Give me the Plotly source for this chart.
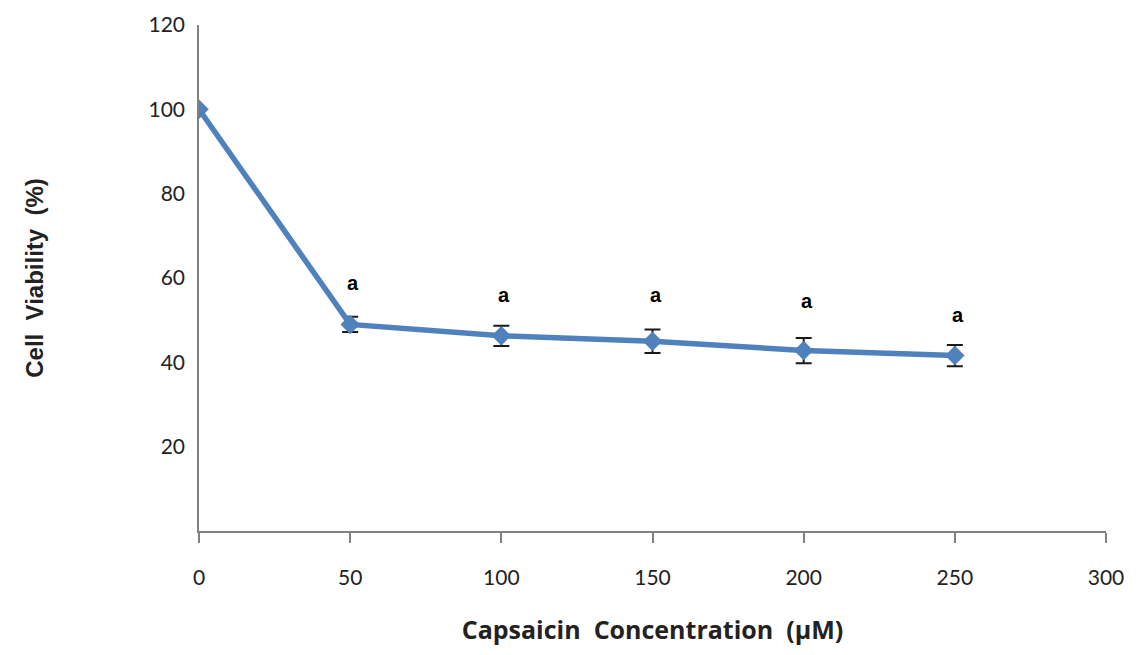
import plotly.graph_objects as go

conc = [0, 50, 100, 150, 200, 250]
viability = [100, 49.0, 46.3, 45.0, 42.8, 41.6]
err = [0, 1.8, 2.4, 2.8, 3.0, 2.5]
sig_labels = ["", "a", "a", "a", "a", "a"]
sig_y = [None, 58.8, 56.0, 56.0, 54.5, 51.3]
x_ticks = [0, 50, 100, 150, 200, 250, 300]
y_ticks = [20, 40, 60, 80, 100, 120]

fig = go.Figure()
fig.add_trace(go.Scatter(
    x=conc, y=viability, mode="lines+markers",
    line=dict(color="#4F81BD", width=5.5),
    marker=dict(symbol="diamond", size=15, color="#4F81BD"),
    error_y=dict(type="data", array=err, visible=True, color="#1a1a1a", thickness=2, width=8),
    showlegend=False,
))

for xv, yv, t in zip(conc, sig_y, sig_labels):
    if t:
        fig.add_annotation(x=xv, y=yv, text="<b>" + t + "</b>", showarrow=False,
                           xshift=3, font=dict(family="Liberation Sans", size=20, color="black"))

fig.add_shape(type="line", xref="x", yref="y", xsizemode="pixel", xanchor=0,
              x0=-19, x1=0, y0=0, y1=0, line=dict(color="#808080", width=1.5))

fig.update_layout(
    width=1142, height=655,
    margin=dict(l=191, r=44, t=17, b=132, autoexpand=False),
    plot_bgcolor="white", paper_bgcolor="white",
    font=dict(family="Lato", size=21, color="#222"),
    xaxis=dict(range=[0, 300], tickvals=x_ticks, showgrid=False, zeroline=False,
               showline=True, linecolor="#808080", linewidth=1.5,
               ticks="outside", ticklen=10, tickcolor="#808080", tickwidth=1.5,
               ticklabelstandoff=17,
               title=dict(text="<b>Capsaicin  Concentration  (µM)</b>",
                          font=dict(family="Open Sans", size=25), standoff=34)),
    yaxis=dict(range=[0, 120], tickvals=y_ticks, showgrid=False, zeroline=False,
               showline=True, linecolor="#808080", linewidth=1.5, ticks="",
               ticklabelstandoff=8,
               title=dict(text="<b>Cell  Viability  (%)</b>",
                          font=dict(family="Liberation Sans", size=24), standoff=98)),
)

fig.write_html("out.html")
